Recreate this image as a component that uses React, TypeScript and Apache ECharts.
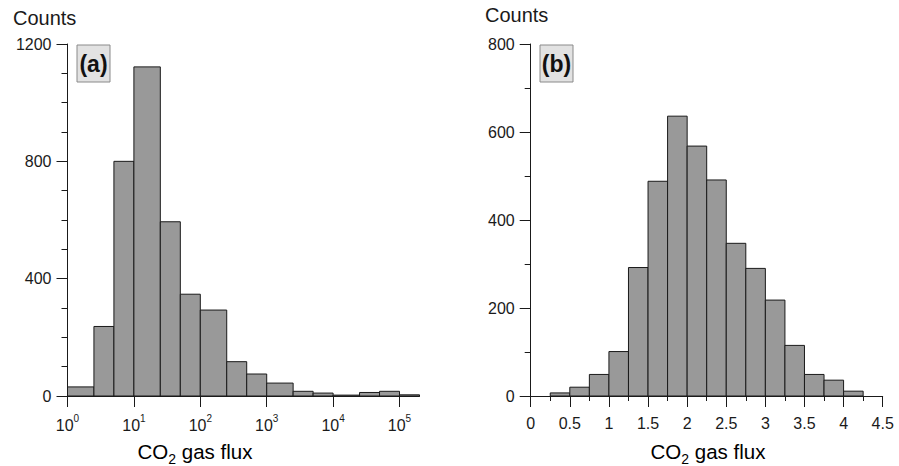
import React, { useEffect, useRef } from "react";
import * as echarts from "echarts";

// Panel (a): log-binned histogram
const leftBinEdges = [1, 2.5, 5, 10, 25, 50, 100, 250, 500, 1000, 2500, 5000, 10000, 25000, 50000, 100000, 200000];
const leftCounts = [31, 237, 800, 1122, 594, 347, 293, 117, 75, 44, 16, 10, 3, 12, 16, 4];
const leftTickValues = [1, 10, 100, 1000, 10000, 100000];

// Panel (b): linear-binned histogram (log-transformed flux)
const rightBinEdges = [0.25, 0.5, 0.75, 1, 1.25, 1.5, 1.75, 2, 2.25, 2.5, 2.75, 3, 3.25, 3.5, 3.75, 4, 4.25];
const rightCounts = [7, 20, 49, 101, 292, 488, 636, 568, 491, 347, 290, 218, 115, 49, 36, 11];

const FONT = "'Liberation Sans', Arial, Helvetica, sans-serif";
const INK = "#1a1a1a";

function histData(edges: number[], counts: number[]) {
  return counts.map((c, i) => [edges[i], edges[i + 1], c]);
}

function renderBar(params: any, api: any) {
  const p0 = api.coord([api.value(0), 0]);
  const p1 = api.coord([api.value(1), api.value(2)]);
  return {
    type: "rect",
    shape: { x: p0[0], y: p1[1], width: p1[0] - p0[0], height: p0[1] - p1[1] },
    style: { fill: "#999999", stroke: INK, lineWidth: 1 },
  };
}

const axisCommon = {
  axisLine: { show: true, onZero: false, lineStyle: { color: INK, width: 1 } },
  splitLine: { show: false },
};

const labelStyle = { color: INK, fontSize: 16, fontFamily: FONT, formatter: (v: number) => String(v) };

export default function App() {
  const ref = useRef<HTMLDivElement>(null);
  useEffect(() => {
    if (!ref.current) return;
    const chart = echarts.init(ref.current, null, { renderer: "svg" });
    const supRich = {
      b: { fontSize: 16, fontFamily: FONT, color: INK, lineHeight: 20, verticalAlign: "bottom" },
      s: { fontSize: 10, fontFamily: FONT, color: INK, lineHeight: 12, verticalAlign: "top" },
    };
    const titleRich = {
      a: { fontSize: 20.5, fontFamily: FONT, color: INK, lineHeight: 25, verticalAlign: "top" },
      s: { fontSize: 14, fontFamily: FONT, color: INK, lineHeight: 14, verticalAlign: "bottom" },
    };
    const option: any = {
      animation: false,
      backgroundColor: "#ffffff",
      grid: [
        { left: 67.5, top: 44, width: 352, height: 352 },
        { left: 530.7, top: 44, width: 352, height: 352 },
      ],
      xAxis: [
        {
          ...axisCommon,
          gridIndex: 0,
          type: "log",
          logBase: 10,
          min: 1,
          max: 200000,
          axisTick: { show: true, length: 11, customValues: leftTickValues, lineStyle: { color: INK } },
          axisLabel: {
            ...labelStyle,
            margin: 17,
            customValues: leftTickValues,
            formatter: (v: number) => "{b|10}{s|" + Math.round(Math.log10(v)) + "}",
            rich: supRich,
          },
        },
        {
          ...axisCommon,
          gridIndex: 1,
          type: "value",
          min: 0,
          max: 4.5,
          interval: 0.5,
          axisTick: { show: true, length: 11, lineStyle: { color: INK } },
          minorTick: { show: true, splitNumber: 2, length: 5, lineStyle: { color: INK } },
          axisLabel: { ...labelStyle, margin: 19 },
        },
      ],
      yAxis: [
        {
          ...axisCommon,
          gridIndex: 0,
          type: "value",
          min: 0,
          max: 1200,
          interval: 400,
          axisTick: { show: true, length: 11, lineStyle: { color: INK } },
          minorTick: { show: true, splitNumber: 4, length: 6, lineStyle: { color: INK } },
          axisLabel: { ...labelStyle, margin: 16 },
        },
        {
          ...axisCommon,
          gridIndex: 1,
          type: "value",
          min: 0,
          max: 800,
          interval: 200,
          axisTick: { show: true, length: 11, lineStyle: { color: INK } },
          minorTick: { show: true, splitNumber: 2, length: 6, lineStyle: { color: INK } },
          axisLabel: { ...labelStyle, margin: 16 },
        },
      ],
      series: [
        {
          type: "custom",
          xAxisIndex: 0,
          yAxisIndex: 0,
          renderItem: renderBar,
          encode: { x: [0, 1], y: 2 },
          data: histData(leftBinEdges, leftCounts),
          clip: false,
        },
        {
          type: "custom",
          xAxisIndex: 1,
          yAxisIndex: 1,
          renderItem: renderBar,
          encode: { x: [0, 1], y: 2 },
          data: histData(rightBinEdges, rightCounts),
          clip: false,
        },
      ],
      graphic: [
        { type: "text", left: 13, top: 8, style: { text: "Counts", fontSize: 20, fontFamily: FONT, fill: INK } },
        { type: "text", left: 485, top: 5, style: { text: "Counts", fontSize: 20, fontFamily: FONT, fill: INK } },
        { type: "rect", shape: { x: 77, y: 45, width: 33, height: 37 }, style: { fill: "#e2e2e2", stroke: "#8a8a8a", lineWidth: 1 } },
        { type: "rect", shape: { x: 540, y: 45, width: 33, height: 37 }, style: { fill: "#e2e2e2", stroke: "#8a8a8a", lineWidth: 1 } },
        {
          type: "text",
          x: 93.5,
          y: 64,
          style: { text: "(a)", fontSize: 23, fontWeight: "bold", fontFamily: FONT, fill: "#111", align: "center", verticalAlign: "middle" },
        },
        {
          type: "text",
          x: 556.5,
          y: 64,
          style: { text: "(b)", fontSize: 23, fontWeight: "bold", fontFamily: FONT, fill: "#111", align: "center", verticalAlign: "middle" },
        },
        {
          type: "text",
          x: 195,
          y: 453,
          style: { text: "{a|CO}{s|2}{a| gas flux}", rich: titleRich, align: "center", verticalAlign: "middle" },
        },
        {
          type: "text",
          x: 708,
          y: 453,
          style: { text: "{a|CO}{s|2}{a| gas flux}", rich: titleRich, align: "center", verticalAlign: "middle" },
        },
      ],
    };
    chart.setOption(option);
    return () => chart.dispose();
  }, []);
  return (
    <div
      ref={ref}
      style={{ position: "fixed", left: 0, top: 0, width: 899, height: 466, background: "#fff" }}
    />
  );
}
